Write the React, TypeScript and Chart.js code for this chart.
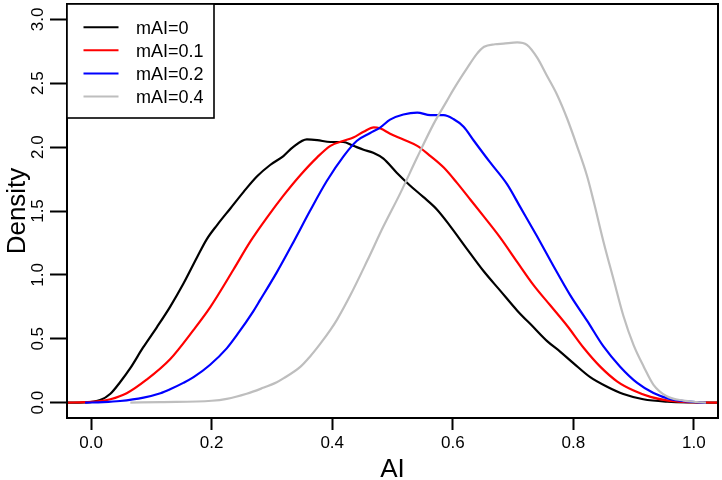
import React, { useEffect, useRef } from "react";
import { Chart, registerables } from "chart.js";

Chart.register(...registerables);

const FONT = "'Liberation Sans', Arial, Helvetica, sans-serif";

const X_TICKS = [0, 0.2, 0.4, 0.6, 0.8, 1.0];
const Y_TICKS = [0, 0.5, 1.0, 1.5, 2.0, 2.5, 3.0];
const X_TITLE = "AI";
const Y_TITLE = "Density";

const SERIES_LABELS = ["mAI=0", "mAI=0.1", "mAI=0.2", "mAI=0.4"];
const SERIES_COLORS = ["#000000", "#FF0000", "#0000FF", "#BEBEBE"];

// mAI = 0 (black)
const AI_0 = [-0.04, -0.01, 0.015, 0.032, 0.048, 0.065, 0.086, 0.109, 0.131, 0.153, 0.176, 0.192, 0.209, 0.231, 0.253, 0.275, 0.297, 0.319, 0.335, 0.358, 0.375, 0.397, 0.418, 0.435, 0.452, 0.468, 0.485, 0.507, 0.529, 0.551, 0.574, 0.596, 0.624, 0.651, 0.679, 0.707, 0.734, 0.757, 0.778, 0.8, 0.828, 0.856, 0.883, 0.916, 0.956, 1.0, 1.04];
const DENS_0 = [0, 0.002, 0.02, 0.07, 0.16, 0.27, 0.43, 0.59, 0.75, 0.93, 1.14, 1.28, 1.39, 1.52, 1.65, 1.77, 1.86, 1.93, 2.0, 2.06, 2.055, 2.04, 2.04, 2.01, 1.98, 1.955, 1.91, 1.8, 1.7, 1.61, 1.51, 1.38, 1.2, 1.03, 0.875, 0.72, 0.59, 0.48, 0.4, 0.31, 0.2, 0.125, 0.068, 0.027, 0.008, 0.002, 0];

// mAI = 0.1 (red)
const AI_1 = [-0.04, -0.01, 0.015, 0.032, 0.059, 0.092, 0.131, 0.17, 0.198, 0.236, 0.264, 0.292, 0.319, 0.347, 0.375, 0.397, 0.419, 0.435, 0.452, 0.469, 0.48, 0.496, 0.518, 0.541, 0.563, 0.585, 0.607, 0.629, 0.651, 0.679, 0.707, 0.734, 0.762, 0.79, 0.817, 0.845, 0.873, 0.9, 0.928, 0.955, 0.983, 1.04];
const DENS_1 = [0, 0.004, 0.012, 0.027, 0.074, 0.18, 0.34, 0.57, 0.75, 1.04, 1.26, 1.45, 1.62, 1.78, 1.92, 2.01, 2.05, 2.075, 2.12, 2.155, 2.145, 2.105, 2.06, 2.01, 1.93, 1.84, 1.72, 1.59, 1.46, 1.29, 1.1, 0.92, 0.76, 0.6, 0.43, 0.28, 0.165, 0.095, 0.045, 0.018, 0.006, 0];

// mAI = 0.2 (blue)
const AI_2 = [-0.01, 0.02, 0.048, 0.087, 0.115, 0.131, 0.153, 0.17, 0.197, 0.225, 0.242, 0.269, 0.28, 0.308, 0.336, 0.363, 0.391, 0.419, 0.441, 0.463, 0.48, 0.496, 0.518, 0.541, 0.563, 0.585, 0.601, 0.618, 0.635, 0.662, 0.69, 0.712, 0.74, 0.767, 0.795, 0.823, 0.85, 0.878, 0.906, 0.933, 0.961, 0.989, 1.02];
const DENS_2 = [0, 0.004, 0.013, 0.04, 0.074, 0.105, 0.155, 0.2, 0.295, 0.425, 0.53, 0.715, 0.8, 1.02, 1.26, 1.5, 1.735, 1.93, 2.05, 2.11, 2.155, 2.215, 2.255, 2.27, 2.25, 2.25, 2.22, 2.16, 2.05, 1.88, 1.71, 1.53, 1.3, 1.07, 0.84, 0.64, 0.44, 0.28, 0.155, 0.076, 0.028, 0.01, 0];

// mAI = 0.4 (gray)
const AI_4 = [0.065, 0.115, 0.2, 0.225, 0.258, 0.282, 0.308, 0.319, 0.347, 0.363, 0.38, 0.397, 0.408, 0.43, 0.458, 0.485, 0.513, 0.541, 0.568, 0.59, 0.601, 0.624, 0.64, 0.652, 0.67, 0.684, 0.707, 0.723, 0.74, 0.756, 0.773, 0.79, 0.806, 0.823, 0.834, 0.85, 0.867, 0.883, 0.9, 0.917, 0.933, 0.955, 0.983, 1.005, 1.02];
const DENS_4 = [0, 0.005, 0.015, 0.03, 0.07, 0.11, 0.16, 0.19, 0.28, 0.36, 0.46, 0.57, 0.65, 0.84, 1.11, 1.38, 1.64, 1.92, 2.18, 2.36, 2.45, 2.62, 2.73, 2.785, 2.805, 2.81, 2.82, 2.8, 2.7, 2.56, 2.41, 2.22, 2.01, 1.77, 1.57, 1.26, 0.96, 0.68, 0.45, 0.28, 0.14, 0.05, 0.016, 0.005, 0];

const SERIES_X = [AI_0, AI_1, AI_2, AI_4];
const SERIES_Y = [DENS_0, DENS_1, DENS_2, DENS_4];

const rStylePlugin = {
  id: "rStyle",
  afterDraw(chart: any) {
    const { ctx, chartArea: a, scales } = chart;
    const ys = scales.y;
    ctx.save();
    // plot box
    ctx.strokeStyle = "#000";
    ctx.lineWidth = 2;
    ctx.strokeRect(a.left, a.top, a.right - a.left, a.bottom - a.top);

    // rotated y tick labels
    ctx.fillStyle = "#000";
    ctx.font = `17px ${FONT}`;
    ctx.textAlign = "center";
    ctx.textBaseline = "middle";
    Y_TICKS.forEach((v) => {
      const py = ys.getPixelForValue(v);
      ctx.save();
      ctx.translate(a.left - 29, py);
      ctx.rotate(-Math.PI / 2);
      ctx.fillText(v.toFixed(1), 0, 0);
      ctx.restore();
    });

    // axis titles
    ctx.font = `26px ${FONT}`;
    ctx.textAlign = "center";
    ctx.textBaseline = "alphabetic";
    ctx.fillText(X_TITLE, (a.left + a.right) / 2, 476.5);
    ctx.save();
    ctx.translate(24.5, (a.top + a.bottom) / 2);
    ctx.rotate(-Math.PI / 2);
    ctx.fillText(Y_TITLE, 0, 0);
    ctx.restore();

    // legend
    const bx = a.left, by = a.top, bw = 147, bh = 114;
    ctx.fillStyle = "#fff";
    ctx.fillRect(bx, by, bw, bh);
    ctx.strokeStyle = "#000";
    ctx.lineWidth = 1.6;
    ctx.strokeRect(bx, by, bw, bh);
    ctx.font = `18px ${FONT}`;
    ctx.textAlign = "left";
    ctx.textBaseline = "middle";
    chart.data.datasets.forEach((ds: any, i: number) => {
      const ly = by + 23.2 + i * 23.1;
      ctx.strokeStyle = ds.borderColor;
      ctx.lineWidth = 2;
      ctx.beginPath();
      ctx.moveTo(bx + 16.5, ly);
      ctx.lineTo(bx + 51.5, ly);
      ctx.stroke();
      ctx.fillStyle = "#000";
      ctx.fillText(ds.label, bx + 69, ly + 2);
    });
    ctx.restore();
  },
};

export default function App() {
  const canvasRef = useRef<HTMLCanvasElement | null>(null);

  useEffect(() => {
    if (!canvasRef.current) return;
    Chart.defaults.font.family = FONT;
    const datasets = SERIES_LABELS.map((label, i) => ({
      label,
      data: SERIES_X[i].map((x, j) => ({ x, y: SERIES_Y[i][j] })),
      borderColor: SERIES_COLORS[i],
      backgroundColor: SERIES_COLORS[i],
      borderWidth: 2.2,
      pointRadius: 0,
      fill: false,
      cubicInterpolationMode: "monotone" as const,
      borderJoinStyle: "round" as const,
      order: SERIES_LABELS.length - 1 - i,
    }));
    const chart = new Chart(canvasRef.current, {
      type: "line",
      data: { datasets },
      options: {
        animation: false,
        responsive: false,
        devicePixelRatio: 1,
        maintainAspectRatio: false,
        layout: { padding: { top: 4, right: 4, left: 0, bottom: 0 } },
        plugins: { legend: { display: false }, tooltip: { enabled: false }, title: { display: false } },
        scales: {
          x: {
            type: "linear",
            min: -0.04,
            max: 1.04,
            offset: false,
            afterBuildTicks: (s: any) => {
              s.ticks = X_TICKS.map((v) => ({ value: v }));
            },
            afterFit: (s: any) => {
              s.height = 62;
            },
            ticks: {
              color: "#000",
              font: { size: 17, family: FONT },
              padding: 3,
              maxRotation: 0,
              minRotation: 0,
              autoSkip: false,
              callback: (v: any) => Number(v).toFixed(1),
            },
            grid: { drawOnChartArea: false, drawTicks: true, tickLength: 12, tickWidth: 2, tickColor: "#000" },
            border: { display: false },
          },
          y: {
            type: "linear",
            min: -0.12,
            max: 3.12,
            afterBuildTicks: (s: any) => {
              s.ticks = Y_TICKS.map((v) => ({ value: v }));
            },
            afterFit: (s: any) => {
              s.width = 67;
            },
            ticks: { display: false },
            grid: { drawOnChartArea: false, drawTicks: true, tickLength: 17, tickWidth: 2, tickColor: "#000" },
            border: { display: false },
          },
        },
      },
      plugins: [rStylePlugin],
    });
    return () => chart.destroy();
  }, []);

  return (
    <div style={{ position: "fixed", left: 0, top: 0, width: 722, height: 480, background: "#fff" }}>
      <canvas ref={canvasRef} width={722} height={480} style={{ display: "block" }} />
    </div>
  );
}
